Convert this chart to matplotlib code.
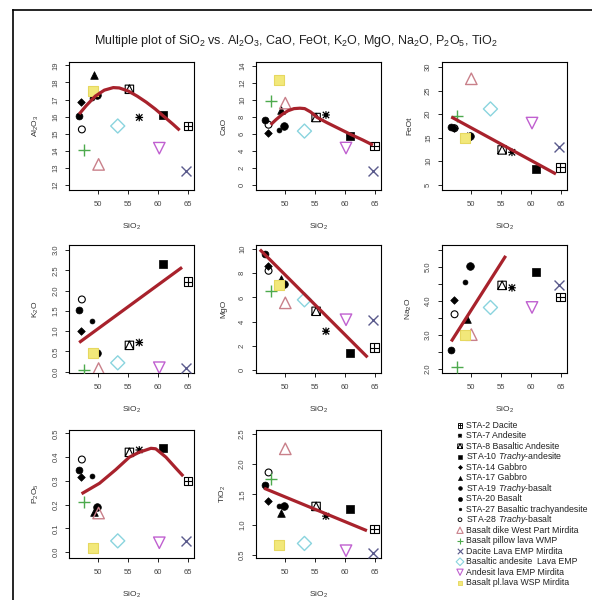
# Multiple Harker plot: SiO2 vs major oxides, with fitted trends.
import numpy as np
import matplotlib
matplotlib.use("Agg")
import matplotlib.pyplot as plt
from matplotlib.path import Path
from matplotlib.lines import Line2D

plt.rcParams['font.family'] = ['Liberation Sans', 'DejaVu Sans']
plt.rcParams['mathtext.fontset'] = 'custom'
plt.rcParams['mathtext.rm'] = 'Liberation Sans'
plt.rcParams['mathtext.it'] = 'Liberation Sans:italic'
plt.rcParams['mathtext.bf'] = 'Liberation Sans:bold'

# %% data, one value per sample (legend order) ------------------------------|
names = ["STA-2 Dacite", "STA-7 Andesite", "STA-8 Basaltic Andesite",
         r"STA-10 $\mathit{Trachy}$-andesite", "STA-14 Gabbro", "STA-17 Gabbro",
         r"STA-19 $\mathit{Trachy}$-basalt", "STA-20 Basalt",
         "STA-27 Basaltic trachyandesite", r"STA-28 $\mathit{Trachy}$-basalt",
         "Basalt dike West Part Mirdita", "Basalt pillow lava WMP",
         "Dacite Lava EMP Mirdita", "Basaltic andesite  Lava EMP",
         "Andesit lava EMP Mirdita", "Basalt pl.lava WSP Mirdita"]

sio2 = [64.95, 56.85, 55.2, 60.9, 47.15, 49.35, 46.7, 49.85,
        49.0, 47.25, 50.05, 47.6, 64.7, 53.25, 60.2, 49.05]
al2o3 = [15.45, 15.95, 17.6, 16.1, 16.85, 18.45, 16.05, 17.25,
         17.1, 15.25, 13.2, 14.05, 12.8, 15.45, 14.15, 17.5]
cao = [4.6, 8.25, 7.95, 5.8, 6.1, 8.8, 7.7, 6.9,
       6.5, 7.1, 9.65, 9.85, 1.6, 6.35, 4.35, 12.4]
feot = [8.7, 11.9, 12.4, 8.3, 17.1, 15.3, 17.2, 15.4,
        15.2, 17.0, 27.5, 19.5, 13.0, 21.1, 18.1, 15.0]
k2o = [2.22, 0.72, 0.65, 2.65, 1.0, 0.45, 1.53, 0.47,
       1.25, 1.78, 0.08, 0.05, 0.1, 0.22, 0.1, 0.45]
mgo = [1.85, 3.2, 4.85, 1.4, 8.6, 7.5, 9.6, 7.1,
       7.3, 8.2, 5.55, 6.55, 4.1, 5.8, 4.15, 7.05]
na2o = [4.1, 4.38, 4.45, 4.85, 4.02, 3.47, 2.55, 5.03,
        4.54, 3.6, 3.0, 2.04, 4.45, 3.8, 3.8, 3.0]
p2o5 = [0.30, 0.43, 0.42, 0.44, 0.315, 0.17, 0.345, 0.19,
        0.32, 0.39, 0.165, 0.21, 0.048, 0.048, 0.04, 0.02]
tio2 = [0.93, 1.14, 1.30, 1.25, 1.39, 1.19, 1.65, 1.31,
        1.31, 1.86, 2.25, 1.75, 0.53, 0.69, 0.57, 0.67]

# fitted trend lines
al_fit_x = [46.8, 48.0, 49.5, 51.0, 52.5, 53.5, 55.0, 56.5, 58.0, 59.5, 61.0, 62.5, 63.6]
al_fit_y = [16.15, 16.65, 17.2, 17.55, 17.7, 17.68, 17.5, 17.2, 16.85, 16.45, 16.0, 15.55, 15.2]
ca_fit_x = [47.6, 48.5, 49.5, 50.5, 51.5, 52.5, 53.3, 54.3, 55.4, 57.0, 59.0, 61.0, 63.0, 64.7]
ca_fit_y = [7.1, 7.7, 8.3, 8.75, 9.0, 9.05, 9.0, 8.6, 7.95, 7.35, 6.65, 5.95, 5.3, 4.7]
fe_fit_x = [46.7, 64.2]
fe_fit_y = [19.4, 7.3]
k_fit_x = [46.8, 64.0]
k_fit_y = [0.72, 2.57]
mg_fit_x = [45.8, 63.8]
mg_fit_y = [9.95, 1.05]
na_fit_x = [46.7, 55.8]
na_fit_y = [2.8, 5.32]
p_fit_x = [47.2, 50.2, 52.9, 55.2, 56.8, 58.8, 59.6, 61.3, 62.95, 64.2]
p_fit_y = [0.246, 0.29, 0.347, 0.40, 0.42, 0.437, 0.435, 0.40, 0.354, 0.32]
ti_fit_x = [46.5, 63.7]
ti_fit_y = [1.6, 0.9]

# %% marker styles ----------------------------------------------------------|
sq_plus = Path([(-1, -1), (1, -1), (1, 1), (-1, 1), (-1, -1),
                (0, -1), (0, 1), (-1, 0), (1, 0)],
               [1, 2, 2, 2, 79, 1, 2, 1, 2])
sq_tri = Path([(-1, -1), (1, -1), (1, 1), (-1, 1), (-1, -1),
               (-1, -1), (0, 1), (1, -1)],
              [1, 2, 2, 2, 79, 1, 2, 2])
star = Path([(-1, -1), (1, 1), (-1, 1), (1, -1), (0, -1.2), (0, 1.2),
             (-1.2, 0), (1.2, 0)], [1, 2, 1, 2, 1, 2, 1, 2])

# (marker, size, facecolor, edgecolor, linewidth)
styles = [(sq_plus, 5.5, 'none', 'k', 0.8),
          (star, 5.0, 'none', 'k', 0.9),
          (sq_tri, 5.5, 'none', 'k', 0.8),
          ('s', 5.5, 'k', 'k', 0.5),
          ('D', 3.5, 'k', 'k', 0.5),
          ('^', 5.0, 'k', 'k', 0.5),
          ('o', 4.5, 'k', 'k', 0.5),
          ('o', 5.0, 'k', 'k', 0.5),
          ('o', 3.2, 'k', 'k', 0.5),
          ('o', 4.5, 'none', 'k', 0.8),
          ('^', 7.5, 'none', '#C9808A', 1.0),
          ('+', 8.0, '#4DAA4D', '#4DAA4D', 1.0),
          ('x', 6.5, '#5A5A8C', '#5A5A8C', 1.0),
          ('D', 6.5, 'none', '#8AD4DE', 1.0),
          ('v', 7.5, 'none', '#C060D0', 1.0),
          ('s', 6.0, '#F2E87A', '#E6D860', 0.8)]

red = '#A8222C'
W, H = 592., 600.
msc = 1.1  # marker size scale in the panels

panels = [(al2o3, al_fit_x, al_fit_y, r'Al$_2$O$_3$', (11.7, 19.2), np.arange(12, 20, 1), None),
          (cao, ca_fit_x, ca_fit_y, 'CaO', (-0.6, 14.5), np.arange(0, 15, 2), None),
          (feot, fe_fit_x, fe_fit_y, 'FeOt', (3.9, 31.06), np.arange(5, 31, 5), None),
          (k2o, k_fit_x, k_fit_y, r'K$_2$O', (-0.03, 3.12), np.arange(0, 3.01, 0.5), '%.1f'),
          (mgo, mg_fit_x, mg_fit_y, 'MgO', (-0.25, 10.33), np.arange(0, 11, 2), None),
          (na2o, na_fit_x, na_fit_y, r'Na$_2$O', (1.87, 5.64), np.arange(2, 5.51, 0.5), 'na'),
          (p2o5, p_fit_x, p_fit_y, r'P$_2$O$_5$', (-0.024, 0.514), np.arange(0, 0.51, 0.1), '%.1f'),
          (tio2, ti_fit_x, ti_fit_y, r'TiO$_2$', (0.45, 2.56), np.arange(0.5, 2.51, 0.5), '%.1f')]

col_left = [69, 255.7, 441.7]
row_top = [62, 245, 430]
ax_w, ax_h = 125, 128

fig = plt.figure(figsize=(W/100, H/100), dpi=100)

for k, (vals, fx, fy, lab, ylim, yt, fmt) in enumerate(panels):
    r, c = divmod(k, 3)
    ax = fig.add_axes([col_left[c]/W, 1 - (row_top[r] + ax_h)/H, ax_w/W, ax_h/H])
    for i in range(len(sio2)):
        m, ms, fc, ec, lw = styles[i]
        ax.scatter(sio2[i], vals[i], marker=m, s=(ms*msc)**2, facecolors=fc,
                   edgecolors=ec, linewidths=lw, zorder=3)
    ax.plot(fx, fy, color=red, lw=2.3, solid_capstyle='butt', zorder=4)
    ax.set_xlim(45.1, 66.0)
    ax.set_ylim(*ylim)
    ax.set_xticks([50, 55, 60, 65])
    ax.set_yticks(yt)
    if fmt == 'na':
        ax.set_yticklabels(['%.1f' % v if abs(v - round(v)) < 1e-6 else '' for v in yt])
    elif fmt is not None:
        ax.set_yticklabels([fmt % v for v in yt])
    ax.tick_params(direction='out', length=3, width=0.6, labelsize=5.5,
                   labelcolor='#444444')
    ax.tick_params(axis='x', pad=5)
    ax.tick_params(axis='y', pad=4)
    for t in ax.get_yticklabels():
        t.set_rotation(90)
        t.set_va('center')
    for s in ax.spines.values():
        s.set_linewidth(0.8)
    ax.set_xlabel(r'SiO$_2$', fontsize=6, color='#333333', labelpad=10)
    ax.set_ylabel(lab, fontsize=6, color='#333333', labelpad=8)

fig.text(0.5, 1 - 41/H,
         r'Multiple plot of SiO$_2$ vs. Al$_2$O$_3$, CaO, FeOt, K$_2$O, MgO, Na$_2$O, P$_2$O$_5$, TiO$_2$',
         ha='center', va='center', fontsize=9.0, color='#222222')

# legend, drawn on its own invisible axes
lax = fig.add_axes([455/W, 1 - 588/H, 137/W, 168/H])
lax.set_xlim(0, 137)
lax.set_ylim(len(names), 0)
lax.axis('off')
for i, name in enumerate(names):
    m, ms, fc, ec, lw = styles[i]
    lax.scatter(5, i + 0.5, marker=m, s=(ms*0.6)**2, facecolors=fc,
                edgecolors=ec, linewidths=lw*0.8)
    lax.text(11, i + 0.5, name, fontsize=6.3, va='center', ha='left', color='#222222')

# outer frame (only top and left edges visible in the crop)
fig.add_artist(Line2D([13/W, 1], [1 - 10/H, 1 - 10/H], color='k', lw=1.2,
                      transform=fig.transFigure))
fig.add_artist(Line2D([13/W, 13/W], [0, 1 - 10/H], color='k', lw=1.2,
                      transform=fig.transFigure))

fig.savefig('out.png', dpi=100)
